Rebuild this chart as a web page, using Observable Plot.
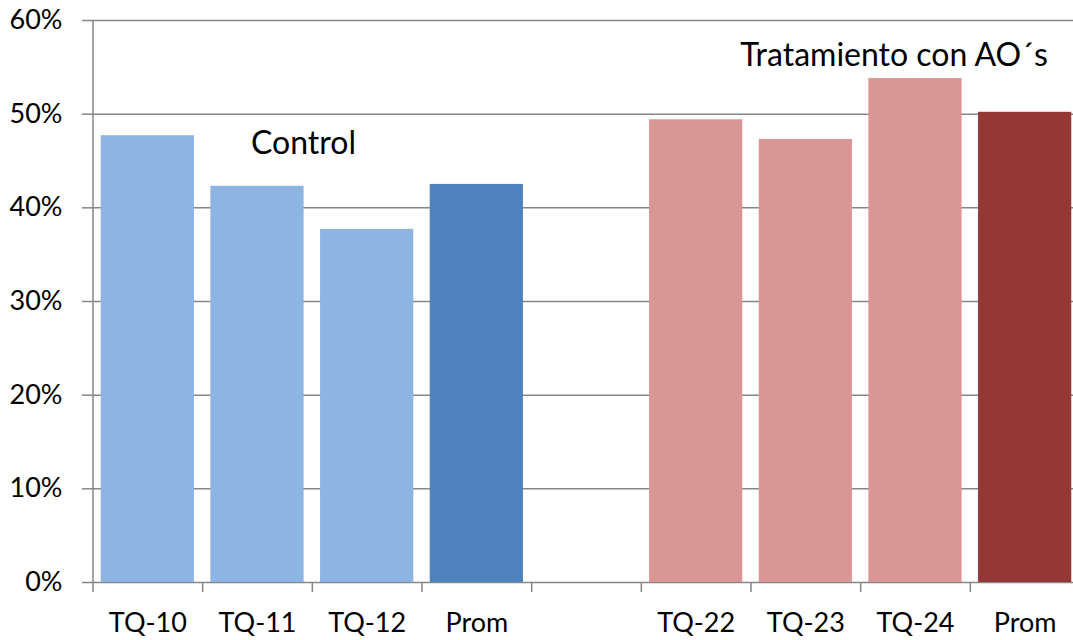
<!DOCTYPE html>
<html>
<head>
<meta charset="utf-8">
<script src="https://cdn.jsdelivr.net/npm/d3@7"></script>
<script src="https://cdn.jsdelivr.net/npm/@observablehq/plot@0.6"></script>
<style>
  html, body { margin: 0; padding: 0; background: #fff; }
  svg { display: block; }
</style>
</head>
<body>
<div id="chart"></div>
<script>
// Category slots along x (the blank slot separates the two groups)
const slots = ["TQ-10", "TQ-11", "TQ-12", "Prom-C", "gap", "TQ-22", "TQ-23", "TQ-24", "Prom-T"];
const slotLabels = ["TQ-10", "TQ-11", "TQ-12", "Prom", "", "TQ-22", "TQ-23", "TQ-24", "Prom"];

// Bar values (share of total)
const samples = ["TQ-10", "TQ-11", "TQ-12", "Prom-C", "TQ-22", "TQ-23", "TQ-24", "Prom-T"];
const values  = [0.477, 0.423, 0.377, 0.425, 0.494, 0.473, 0.538, 0.502];
const groups  = ["Control", "Control", "Control", "Control", "AO", "AO", "AO", "AO"];
const kinds   = ["sample", "sample", "sample", "mean", "sample", "sample", "sample", "mean"];

// Y axis ticks
const yTicks = [0, 0.1, 0.2, 0.3, 0.4, 0.5, 0.6];

const bars = samples.map((s, i) => ({sample: s, value: values[i], group: groups[i], kind: kinds[i]}));

const fills = {
  "Control|sample": "#8eb4e3",
  "Control|mean": "#4f81bd",
  "AO|sample": "#d99694",
  "AO|mean": "#953735"
};

const W = 1073, H = 640;
const xRange = [92.5, 1079.5];
const step = (xRange[1] - xRange[0]) / slots.length;
const grey = "#868686";
const font = "Lato, 'Open Sans', sans-serif";

const chart = Plot.plot({
  width: W,
  height: H,
  marginLeft: 92,
  marginRight: 0,
  marginTop: 20,
  marginBottom: 58,
  style: {fontFamily: font, background: "#fff", color: "#000"},
  x: {domain: slots, range: xRange, paddingInner: 0.15, paddingOuter: 0.075, round: false, axis: null},
  y: {domain: [0, 0.6], axis: null},
  marks: [
    // horizontal gridlines
    Plot.ruleY(yTicks, {stroke: grey, strokeWidth: 1.5}),
    // bars
    Plot.barY(bars, {
      x: "sample",
      y: "value",
      fill: d => fills[d.group + "|" + d.kind]
    }),
    // vertical axis line
    Plot.ruleX([slots[0]], {x: d => d, y1: 0, y2: 0.6, dx: -step / 2, stroke: grey, strokeWidth: 1.5}),
    // category boundary ticks below the baseline
    Plot.ruleX(slots, {x: d => d, y1: 0, y2: 0, insetBottom: -10, dx: -step / 2, stroke: grey, strokeWidth: 1.5}),
    // y axis
    Plot.axisY({
      ticks: yTicks,
      tickFormat: d3.format(".0%"),
      tickSize: 10,
      tickPadding: 20,
      stroke: grey,
      strokeWidth: 1.5,
      fill: "#000",
      fontSize: 27,
      label: null
    }),
    // x axis labels
    Plot.axisX({
      tickSize: 0,
      tickPadding: 30,
      tickFormat: d => slotLabels[slots.indexOf(d)],
      fill: "#000",
      fontSize: 27,
      label: null
    }),
    // group annotations
    Plot.text(["Control"], {x: () => "TQ-11", y: () => 0.4688, text: d => d, dx: 46, fontSize: 32, fill: "#000"}),
    Plot.text(["Tratamiento con AO´s"], {x: () => "TQ-24", y: () => 0.5626, text: d => d, dx: -21.5, fontSize: 32, fill: "#000"})
  ]
});

document.getElementById("chart").appendChild(chart);
</script>
</body>
</html>
